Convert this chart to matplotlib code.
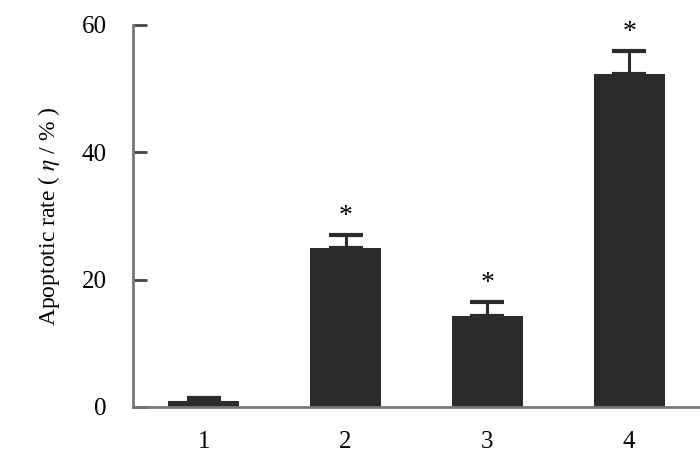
import matplotlib
matplotlib.use("Agg")
import matplotlib.pyplot as plt

# datos
grupos = [1, 2, 3, 4]
etiquetas = ["1", "2", "3", "4"]
tasa = [1.0, 25.0, 14.3, 52.3]
error = [0.4, 2.0, 2.2, 3.6]
significativo = [False, True, True, True]

plt.rcParams['font.family'] = ['Liberation Serif', 'DejaVu Serif']
plt.rcParams['mathtext.fontset'] = 'stix'

fig = plt.figure(figsize=(7, 4.71), dpi=100)
ax = fig.add_axes([0.19, 0.136, 0.81, 0.811])

ax.bar(grupos, tasa, width=0.5, color="#2b2b2b", zorder=2)
ax.errorbar(grupos, tasa, yerr=[[0] * len(error), error], fmt="none",
            ecolor="#2b2b2b", elinewidth=2.2, capsize=12, capthick=3, zorder=3)

# asteriscos
for x, y, e, s in zip(grupos, tasa, error, significativo):
    if s:
        ax.text(x, y + e + 0.9, "*", ha="center", va="bottom", fontsize=20)

ax.set_xlim(0.5, 4.5)
ax.set_ylim(0, 60)
ax.set_yticks([0, 20, 40, 60])
ax.set_xticks(grupos)
ax.set_xticklabels(etiquetas)
ax.set_ylabel(r"Apoptotic rate ( $\eta$ / % )", fontsize=17, labelpad=14)

for lado in ["top", "right"]:
    ax.spines[lado].set_visible(False)
for lado in ["left", "bottom"]:
    ax.spines[lado].set_color("#777777")
    ax.spines[lado].set_linewidth(2)

ax.tick_params(axis="y", direction="in", length=10, width=2, color="#444444",
               labelsize=18, pad=19)
ax.tick_params(axis="x", length=0, labelsize=18, pad=17)

fig.savefig("out.png", dpi=100)
